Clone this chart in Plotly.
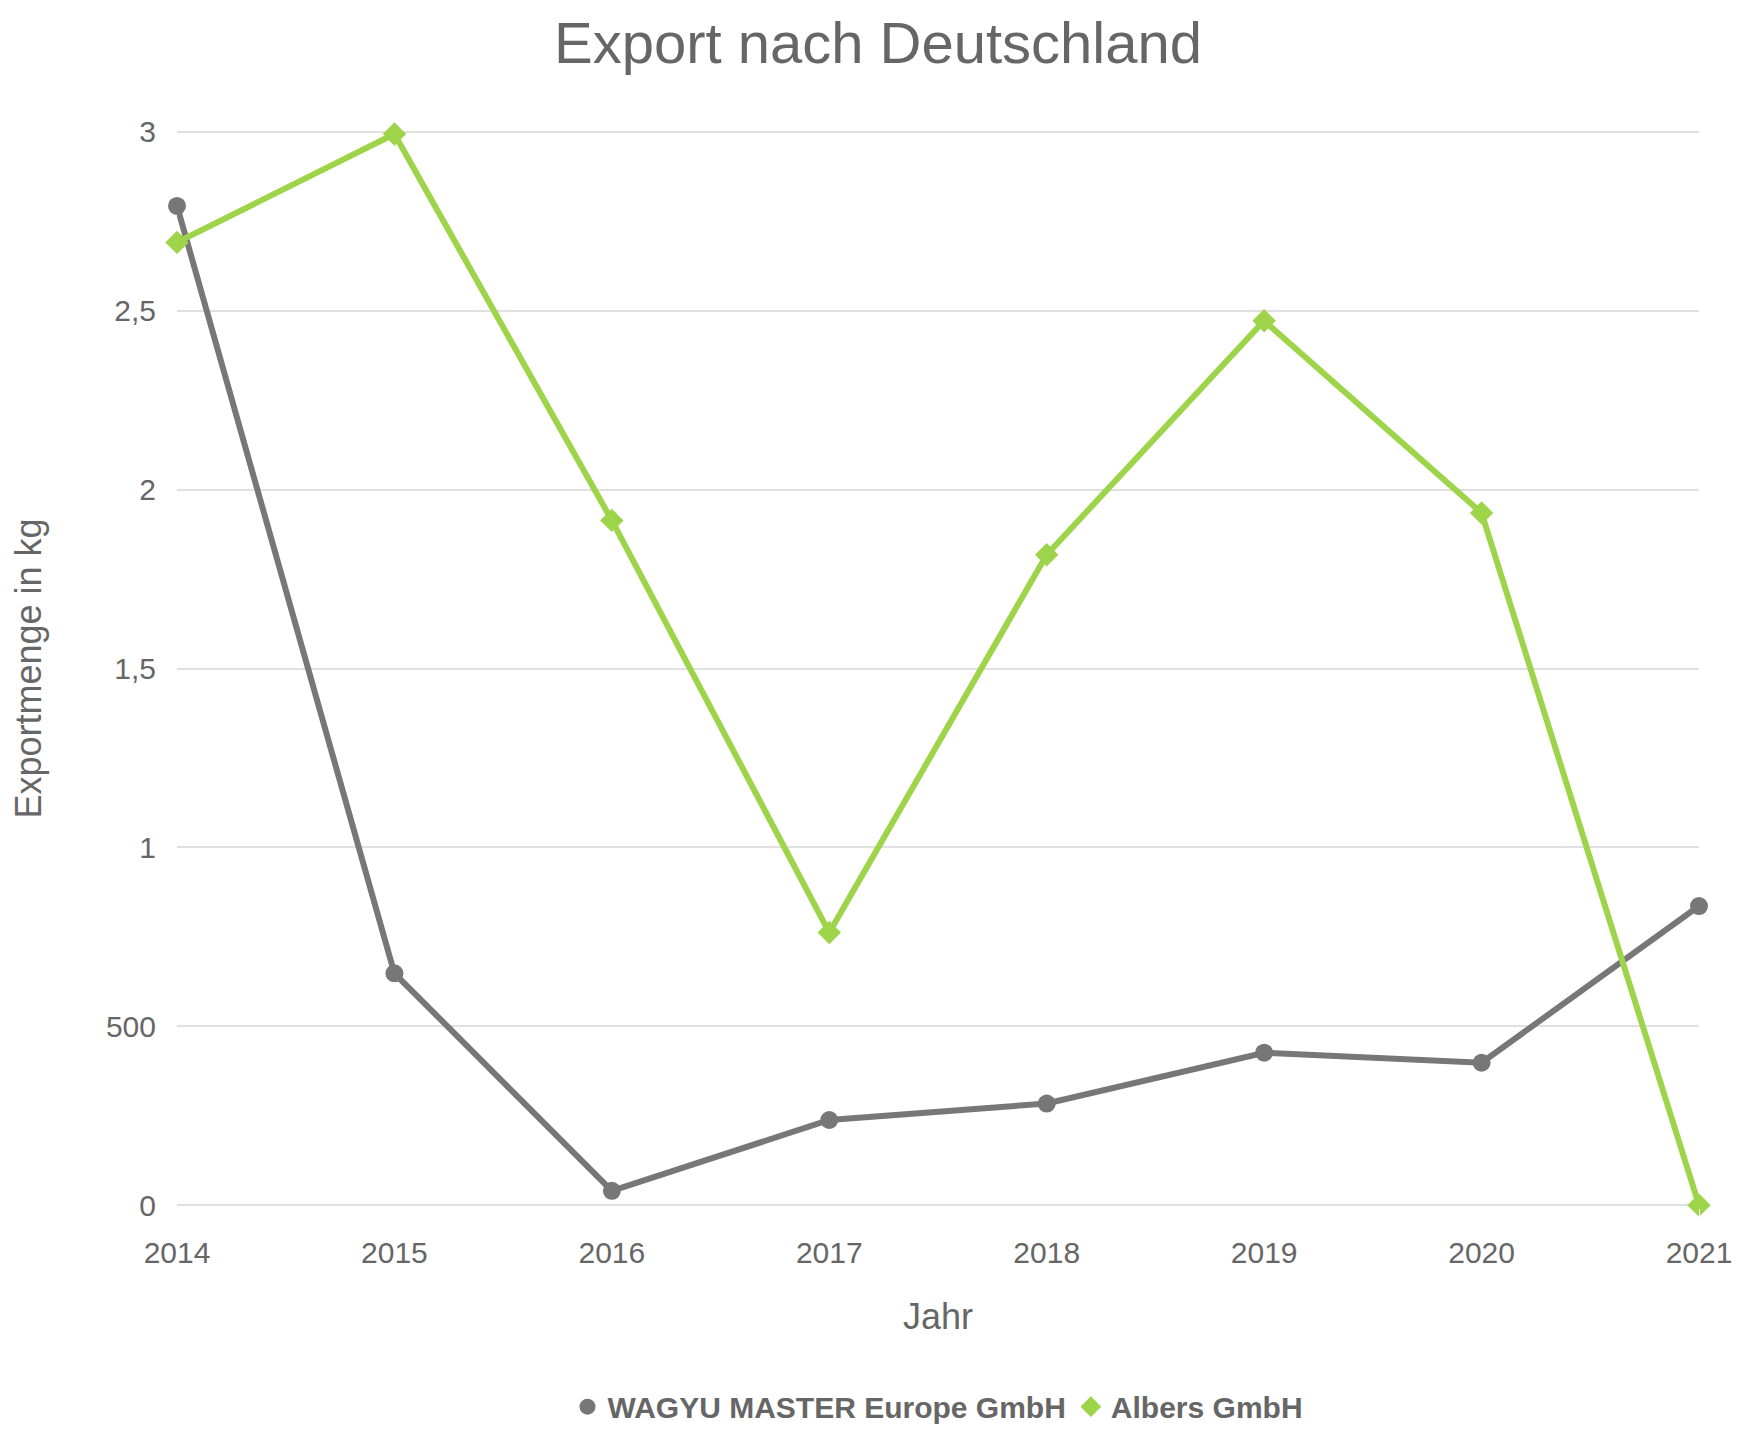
import plotly.graph_objects as go

years = [2014, 2015, 2016, 2017, 2018, 2019, 2020, 2021]
wagyu = [2793, 648, 40, 238, 284, 426, 398, 836]
albers = [2691, 2994, 1914, 762, 1818, 2472, 1935, 0]
ytickvals = [0, 500, 1000, 1500, 2000, 2500, 3000]
yticktext = ["0", "500", "1", "1,5", "2", "2,5", "3"]
GREY = "#777777"
GREEN = "#9ed44a"

fig = go.Figure()
fig.add_trace(go.Scatter(x=years, y=wagyu, name="WAGYU MASTER Europe GmbH", mode="lines+markers",
                         line=dict(color=GREY, width=6), marker=dict(symbol="circle", size=18, color=GREY),
                         cliponaxis=False, showlegend=False))
fig.add_trace(go.Scatter(x=years, y=albers, name="Albers GmbH", mode="lines+markers",
                         line=dict(color=GREEN, width=6), marker=dict(symbol="diamond", size=18, color=GREEN),
                         cliponaxis=False, showlegend=False))
fig.add_trace(go.Scatter(x=[None], y=[None], name="WAGYU MASTER Europe GmbH", mode="markers",
                         marker=dict(symbol="circle", size=40, color=GREY)))
fig.add_trace(go.Scatter(x=[None], y=[None], name="Albers GmbH", mode="markers",
                         marker=dict(symbol="diamond", size=40, color=GREEN)))
fig.update_layout(
    width=1740, height=1449, paper_bgcolor="white", plot_bgcolor="white",
    font=dict(family="Liberation Sans, Arial, sans-serif", color="#666666", size=30),
    title=dict(text="Export nach Deutschland", x=0.5, xanchor="center", y=0.99, yanchor="top",
               font=dict(size=58, color="#666666")),
    margin=dict(l=169, r=49, t=121, b=249),
    showlegend=True,
    legend=dict(orientation="h", x=0.5, xanchor="center", y=-0.16, yanchor="top",
                font=dict(size=30, color="#666666", family="Liberation Sans, Arial, sans-serif", weight="bold"),
                itemwidth=30, tracegroupgap=0),
    xaxis=dict(range=[2014, 2021], tickvals=years, showgrid=False, zeroline=False, showline=False,
               title=dict(text="Jahr", standoff=35), ticks="outside", ticklen=18, tickcolor="white"),
    yaxis=dict(range=[-8, 3008], tickvals=ytickvals, ticktext=yticktext, showgrid=True,
               gridcolor="#e0e0e0", gridwidth=2, zeroline=False, showline=False,
               title=dict(text="Exportmenge in kg", standoff=60), ticks="outside", ticklen=14, tickcolor="white"),
)
fig.write_html("out.html")
